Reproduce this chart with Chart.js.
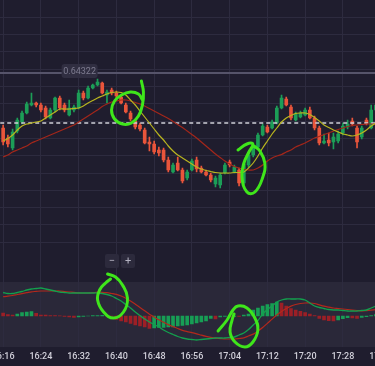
<!DOCTYPE html>
<html>
<head>
<meta charset="utf-8">
<script src="https://cdn.jsdelivr.net/npm/chart.js@4.4.0/dist/chart.umd.min.js"></script>
<style>
  html, body { margin: 0; padding: 0; background: #1f1d2e; }
  #wrap { position: relative; width: 375px; height: 366px; overflow: hidden; }
  #chart { position: absolute; left: -50px; top: 0; width: 446px; height: 366px; }
</style>
</head>
<body>
<div id="wrap"><canvas id="chart" width="446" height="366"></canvas></div>
<script>
// 1-minute candles, first one at 16:16
const firstMinute = 16; // minutes after 16:00

const opens = [0.64267,0.64257,0.64247,0.64264,0.64273,0.64282,0.64290,0.64292,0.64290,0.64287,
  0.64277,0.64285,0.64297,0.64290,0.64280,0.64285,0.64287,0.64302,0.64297,0.64307,
  0.64310,0.64312,0.64300,0.64305,0.64302,0.64298,0.64290,0.64282,0.64274,0.64270,
  0.64265,0.64253,0.64251,0.64245,0.64245,0.64235,0.64223,0.64232,0.64225,0.64217,
  0.64225,0.64235,0.64227,0.64223,0.64220,0.64211,0.64210,0.64222,0.64233,0.64223,
  0.64225,0.64212,0.64230,0.64240,0.64248,0.64260,0.64268,0.64267,0.64272,0.64287,
  0.64296,0.64288,0.64275,0.64278,0.64280,0.64285,0.64277,0.64267,0.64252,0.64255,
  0.64253,0.64254,0.64262,0.64268,0.64274,0.64267,0.64258,0.64275,0.64267,0.64285];
const highs = [0.64270,0.64260,0.64266,0.64277,0.64284,0.64293,0.64302,0.64293,0.64292,0.64289,
  0.64287,0.64298,0.64299,0.64292,0.64295,0.64290,0.64305,0.64304,0.64309,0.64311,
  0.64316,0.64313,0.64305,0.64307,0.64304,0.64300,0.64292,0.64284,0.64276,0.64272,
  0.64267,0.64258,0.64254,0.64248,0.64247,0.64238,0.64232,0.64238,0.64227,0.64225,
  0.64236,0.64238,0.64229,0.64225,0.64222,0.64219,0.64222,0.64232,0.64235,0.64230,
  0.64227,0.64233,0.64242,0.64250,0.64262,0.64271,0.64270,0.64275,0.64289,0.64300,
  0.64298,0.64290,0.64283,0.64284,0.64287,0.64288,0.64279,0.64269,0.64261,0.64262,
  0.64262,0.64264,0.64272,0.64275,0.64277,0.64269,0.64269,0.64277,0.64290,0.64295];
const lows = [0.64250,0.64248,0.64245,0.64262,0.64271,0.64281,0.64289,0.64288,0.64283,0.64276,
  0.64276,0.64283,0.64285,0.64283,0.64279,0.64283,0.64286,0.64295,0.64296,0.64306,
  0.64309,0.64301,0.64292,0.64300,0.64297,0.64291,0.64282,0.64274,0.64266,0.64264,
  0.64251,0.64244,0.64241,0.64239,0.64233,0.64223,0.64222,0.64224,0.64212,0.64215,
  0.64224,0.64223,0.64222,0.64219,0.64213,0.64208,0.64207,0.64221,0.64228,0.64222,
  0.64209,0.64210,0.64228,0.64238,0.64247,0.64259,0.64262,0.64266,0.64271,0.64286,
  0.64289,0.64275,0.64274,0.64277,0.64279,0.64276,0.64265,0.64250,0.64251,0.64249,
  0.64246,0.64252,0.64260,0.64266,0.64269,0.64247,0.64256,0.64270,0.64266,0.64283];
const closes = [0.64253,0.64251,0.64263,0.64275,0.64282,0.64291,0.64292,0.64290,0.64285,0.64278,
  0.64285,0.64297,0.64287,0.64285,0.64287,0.64288,0.64302,0.64297,0.64307,0.64310,
  0.64313,0.64302,0.64303,0.64302,0.64299,0.64292,0.64283,0.64276,0.64268,0.64266,
  0.64252,0.64251,0.64243,0.64242,0.64235,0.64225,0.64230,0.64225,0.64214,0.64223,
  0.64234,0.64226,0.64223,0.64220,0.64215,0.64217,0.64220,0.64230,0.64230,0.64228,
  0.64212,0.64231,0.64240,0.64248,0.64260,0.64269,0.64263,0.64273,0.64287,0.64297,
  0.64290,0.64277,0.64281,0.64282,0.64285,0.64277,0.64267,0.64252,0.64254,0.64252,
  0.64258,0.64261,0.64269,0.64271,0.64271,0.64253,0.64267,0.64272,0.64285,0.64290];

// moving averages (yellow fast, dark red slow)
const fastMa = [0.64254,0.642565,0.64260,0.64265,0.64269,0.64271,0.64272,0.64273,0.64274,0.64277,
  0.64280,0.64283,0.64286,0.64286,0.64286,0.642865,0.64287,0.64289,0.64292,0.642945,
  0.64297,0.64299,0.64301,0.643025,0.64303,0.643025,0.64300,0.64295,0.64290,0.64284,
  0.64278,0.64272,0.64266,0.64260,0.64255,0.64249,0.64244,0.64240,0.64237,0.64234,
  0.64231,0.64228,0.64226,0.642245,0.642235,0.642225,0.64222,0.64222,0.64222,0.642225,
  0.642225,0.64223,0.64227,0.64232,0.64239,0.64247,0.64254,0.64261,0.64267,0.64273,
  0.64277,0.642795,0.642815,0.64282,0.64282,0.642805,0.642775,0.64274,0.64270,0.642675,
  0.64265,0.64263,0.64261,0.64260,0.64259,0.64260,0.64262,0.64265,0.64269,0.64272];
const slowMa = [0.64238,0.64240,0.64243,0.64245,0.64247,0.64249,0.64252,0.64254,0.64256,0.64258,
  0.64260,0.64262,0.64264,0.64266,0.64268,0.64270,0.64273,0.64276,0.64279,0.64282,
  0.64285,0.642885,0.64291,0.64293,0.64294,0.64295,0.64295,0.64294,0.642925,0.64291,
  0.64289,0.642865,0.64284,0.642815,0.64279,0.642765,0.642735,0.642705,0.642675,0.64264,
  0.642605,0.64257,0.64253,0.64249,0.64245,0.64241,0.642375,0.64234,0.64231,0.642285,
  0.64227,0.642255,0.64225,0.64225,0.64227,0.64230,0.64234,0.64237,0.64239,0.642405,
  0.64243,0.64245,0.64248,0.64250,0.64252,0.642545,0.64257,0.642585,0.642605,0.64262,
  0.64264,0.642655,0.64267,0.642685,0.642695,0.64270,0.642705,0.64271,0.64271,0.64271];

// MACD pane (units of 1e-6)
const macdLine = [23.5,22.5,22.5,23.5,24.5,26,27,27.5,28,27,
  26,25,24,23.5,23,23,23,23,23,23,
  23,22.5,21.5,20,17.5,15,11.5,8,4,0.5,
  -3,-6,-8.5,-11,-14,-16.5,-18.5,-20.5,-22,-23,
  -23.5,-24,-23.5,-23,-22.5,-22,-22,-22,-21.5,-21,
  -19,-17,-13.5,-9,-4.5,2,6.5,10,14,16,
  17,17,17,17,16,13,10,8.5,7.5,6.5,
  6,6,5.5,5,5,5,5.5,6,8,10];
const signalLine = [19.3,19.8,20.5,21.5,22.4,23.3,24.2,24.6,25,25,
  25,25,25,24.5,24,23.6,23.1,23,23,23.3,
  23.8,23.7,23.3,22.5,21.6,20,17.8,15,11.8,8.5,
  5.2,1.8,-1,-3.8,-6.2,-8.6,-10.6,-12.5,-14.4,-15.6,
  -16.6,-17.8,-19.2,-20.4,-21.4,-22.2,-22.6,-23,-23,-23,
  -22.5,-21.9,-20,-18.1,-15,-11.5,-7.4,-3.1,1,4.6,
  7.5,9.9,11.5,12.5,13,13,12.5,11.1,9.8,8.9,
  8,7.5,7,6.5,6,5.5,5.1,5.4,5.8,6.3];
const macdHist = [3,1.5,1,2,3.3,4,4.3,2.7,1,0.8,
  0.5,0.3,0.2,-0.5,-1,-1.5,-1,-0.5,0,0.3,
  0.5,0.6,0.4,0,-3.5,-5,-6,-7.5,-9,-10,
  -11,-12.3,-12,-11.5,-11.3,-11,-10.8,-10,-9.5,-9,
  -8,-7,-6,-5,-2.5,-3,-1,-0.5,-0.8,-0.3,
  -0.5,1,2,6,8,10,11.5,12.5,14,13,
  10,7.5,6,4.7,3.3,2,0.5,-2.3,-4,-4.7,
  -5,-4,-2.7,-1.7,-2,-2.3,-1.5,-0.7,0.5,1.5];

const timeLabels = ['16:08','16:16','16:24','16:32','16:40','16:48','16:56','17:04','17:12','17:20','17:28','17:36'];

const highLine = 0.64322;   // solid marker line with label
const lastPrice = 0.64272;  // dashed line

// hand drawn green circles: [minute, value]
const circleA = [[45.3,0.64314],[45.73,0.64303],[45.52,0.64290],[44.67,0.64279],[43.19,0.64272],[41.29,0.64271],
  [39.61,0.64276],[38.97,0.64285],[39.61,0.64294],[41.08,0.64300],[42.98,0.64303],[44.67,0.64301],[45.52,0.64295]];
const circleB = [[65.77,0.64245],[67.67,0.64251],[68.93,0.64251],[68.09,0.64243],[67.03,0.64232],[66.61,0.64218],
  [67.67,0.64203],[69.35,0.64203],[71.04,0.64218],[71.46,0.64232],[70.41,0.64244],[69.14,0.64249]];
const circleC = [[38.13,42],[39.82,39],[41.29,31],[42.35,18],[41.5,4],[39.4,-2],[37.29,4],[36.02,16],[36.44,26],[37.71,33],[38.76,37]];
const circleD = [[61.55,-15],[63.45,-4],[64.71,6],[65.77,10],[67.67,8],[69.35,-2],[69.98,-14],[68.93,-26],
  [67.24,-31],[65.14,-26],[64.09,-16],[64.52,-4],[64.94,2]];

// axis ranges
const tMin = 5, tMax = 99.17;
const priceTop = 0.64395, priceBottom = 0.64048;
const gridStep = 0.000173;
const macdMin = -31, macdMax = 316, macdPaneTop = 34;
const shift = 50; // canvas sits this many px left of the window

const green = '#1c9e57', red = '#e9553b';
const gridColor = '#2d2b3f';

const times = opens.map((_, i) => firstMinute + i);
const up = i => closes[i] >= opens[i];
const pts = arr => arr.map((v, i) => ({x: times[i], y: v}));
const pairs = arr => arr.map(p => ({x: p[0], y: p[1]}));
const gridLevels = [];
for (let k = 1; k <= 14; k++) gridLevels.push(priceTop - k * gridStep);

function circleSet(data, axis) {
  return {
    type: 'line', data: pairs(data), yAxisID: axis, order: 0,
    borderColor: '#3fe61b', borderWidth: 3, pointRadius: 0, tension: 0.45,
    borderCapStyle: 'round', borderJoinStyle: 'round', clip: false
  };
}

const decor = {
  id: 'decor',
  beforeDraw(chart) {
    const {ctx, chartArea, width, height} = chart;
    ctx.save();
    ctx.fillStyle = '#1f1d2e';
    ctx.fillRect(0, 0, width, height);
    const top = chart.scales.m.getPixelForValue(macdPaneTop);
    ctx.fillStyle = '#2a2839';
    ctx.fillRect(0, top, width, chartArea.bottom - top);
    ctx.restore();
  },
  afterDraw(chart) {
    const {ctx} = chart;
    ctx.save();
    // price label on the marker line
    const lx = chart.scales.x.getPixelForValue(32.2);
    const ly = chart.scales.y.getPixelForValue(highLine) - 2;
    ctx.fillStyle = '#302e41';
    ctx.beginPath();
    ctx.roundRect(lx - 18, ly - 7, 36, 14, 3);
    ctx.fill();
    ctx.fillStyle = '#7e7c90';
    ctx.font = '9px Roboto';
    ctx.textAlign = 'center';
    ctx.textBaseline = 'middle';
    ctx.fillText('0.64322', lx, ly + 0.5);
    // zoom buttons
    [['\u2212', 105], ['+', 121]].forEach(([s, bx]) => {
      ctx.fillStyle = '#2c2a3c';
      ctx.beginPath();
      ctx.roundRect(bx + shift, 254, 14, 14, 2);
      ctx.fill();
      ctx.fillStyle = '#b4b3c2';
      ctx.font = '11px Roboto';
      ctx.fillText(s, bx + shift + 7, 261);
    });
    ctx.restore();
  }
};

new Chart(document.getElementById('chart'), {
  type: 'bar',
  data: {
    datasets: [
      circleSet(circleA, 'y'),
      circleSet(circleB, 'y'),
      circleSet(circleC, 'm'),
      circleSet(circleD, 'm'),
      { type: 'line', data: pts(fastMa), yAxisID: 'y', order: 1, borderColor: '#b9b51f', borderWidth: 1.2, pointRadius: 0, tension: 0.3 },
      { type: 'line', data: pts(slowMa), yAxisID: 'y', order: 1, borderColor: '#a3261a', borderWidth: 1.2, pointRadius: 0, tension: 0.3 },
      { type: 'line', data: [{x: tMin, y: lastPrice}, {x: tMax, y: lastPrice}], yAxisID: 'y', order: 2,
        borderColor: '#cfcfd8', borderWidth: 1.5, borderDash: [4, 3], pointRadius: 0 },
      { type: 'line', data: [{x: tMin, y: highLine}, {x: tMax, y: highLine}], yAxisID: 'y', order: 2,
        borderColor: '#56546a', borderWidth: 2, pointRadius: 0 },
      { type: 'bar', data: times.map((t, i) => ({x: t, y: [opens[i], closes[i]]})), yAxisID: 'y', order: 5,
        grouped: false, barThickness: 3, minBarLength: 1, borderWidth: 0,
        backgroundColor: c => up(c.dataIndex) ? green : red },
      { type: 'bar', data: times.map((t, i) => ({x: t, y: [lows[i], highs[i]]})), yAxisID: 'y', order: 6,
        grouped: false, barThickness: 1, borderWidth: 0,
        backgroundColor: c => up(c.dataIndex) ? green : red },
      { type: 'line', data: pts(macdLine), yAxisID: 'm', order: 1, borderColor: '#13a04d', borderWidth: 1.3, pointRadius: 0, tension: 0.3 },
      { type: 'line', data: pts(signalLine), yAxisID: 'm', order: 1, borderColor: '#b3281c', borderWidth: 1.2, pointRadius: 0, tension: 0.3 },
      { type: 'bar', data: pts(macdHist), yAxisID: 'm', order: 6, grouped: false, barThickness: 3, borderWidth: 0,
        backgroundColor: c => {
          const i = c.dataIndex;
          const prev = i > 0 ? macdHist[i - 1] : Infinity;
          return macdHist[i] >= prev ? '#179e55' : '#9c1f26';
        } }
    ]
  },
  options: {
    responsive: false,
    animation: false,
    events: [],
    layout: { padding: 0 },
    plugins: { legend: { display: false }, tooltip: { enabled: false } },
    scales: {
      x: {
        type: 'linear', min: tMin, max: tMax, offset: false,
        grid: { color: gridColor, drawTicks: false, offset: false },
        border: { display: false },
        ticks: {
          stepSize: 8, includeBounds: false, autoSkip: false, maxRotation: 0, padding: 4,
          color: '#d0cfd9', font: { family: 'Roboto', size: 9, weight: '500' },
          callback: v => timeLabels[(v - 8) / 8] ?? ''
        },
        afterFit: s => { s.height = 19; }
      },
      y: {
        position: 'left', min: priceBottom, max: priceTop,
        ticks: { display: false },
        border: { display: false },
        grid: { color: gridColor, drawTicks: false },
        afterBuildTicks: s => { s.ticks = gridLevels.map(v => ({value: v})); },
        afterFit: s => { s.width = 0; }
      },
      m: { display: false, min: macdMin, max: macdMax }
    }
  },
  plugins: [decor]
});
</script>
</body>
</html>
